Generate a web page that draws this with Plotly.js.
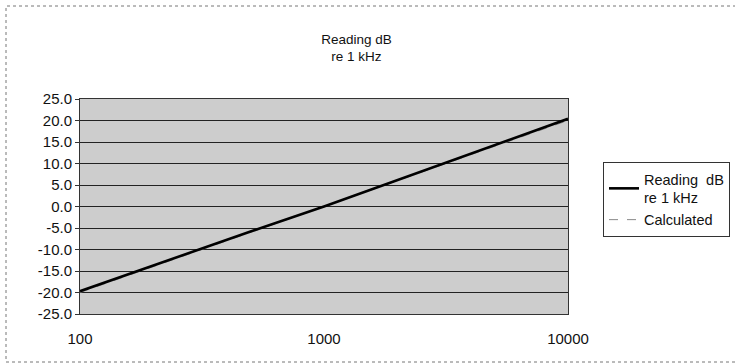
<!DOCTYPE html>
<html><head><meta charset="utf-8">
<script src="https://cdn.plot.ly/plotly-3.0.1.min.js"></script>
<style>body{margin:0;background:#fff}#c{width:735px;height:364px}</style>
</head><body><div id="c"></div>
<script>
const freq = [100, 200, 500, 1000, 2000, 5000, 10000];
const reading = [-19.7, -13.7, -5.8, 0.0, 6.1, 14.2, 20.4];
const calculated = [-20.0, -14.0, -6.0, 0.0, 6.0, 14.0, 20.0];
const yTickVals = [25, 20, 15, 10, 5, 0, -5, -10, -15, -20, -25];
const yTickText = ["25.0","20.0","15.0","10.0","5.0","0.0","-5.0","-10.0","-15.0","-20.0","-25.0"];
const xTickVals = [100, 1000, 10000];
const xTickText = ["100", "1000", "10000"];

const traces = [
  {x: freq, y: calculated, mode: 'lines', name: 'Calculated',
   line: {color: '#8a8a8a', width: 1, dash: 'dash'}},
  {x: freq, y: reading, mode: 'lines', name: 'Reading  dB<br>re 1 kHz',
   line: {color: '#000', width: 2.6}}
];
const layout = {
  width: 735, height: 364,
  margin: {l: 80, r: 167, t: 99, b: 50},
  paper_bgcolor: '#fff', plot_bgcolor: '#cdcdcd',
  font: {family: 'Liberation Sans, Arial, sans-serif', size: 13, color: '#111'},
  title: {text: 'Reading dB<br>re 1 kHz', x: 0.485, xanchor: 'center', y: 0.88, yanchor: 'middle',
          font: {size: 13.5, color: '#111'}},
  showlegend: true,
  legend: {xref: 'container', yref: 'container', x: 603/735, y: 1 - 162/364,
           xanchor: 'left', yanchor: 'top', traceorder: 'reversed',
           bgcolor: '#fff', bordercolor: '#333', borderwidth: 1,
           font: {size: 14.5, color: '#111'}, itemwidth: 30, tracegroupgap: 0},
  xaxis: {type: 'log', range: [2, 4], tickvals: xTickVals, ticktext: xTickText,
          showgrid: false, zeroline: false, showline: true, linecolor: '#333', linewidth: 1,
          ticks: '', ticklabelstandoff: 11, mirror: true, tickfont: {size: 15}, automargin: false},
  yaxis: {range: [-25, 25], tickvals: yTickVals, ticktext: yTickText,
          showgrid: true, gridcolor: '#222', gridwidth: 1, zeroline: false,
          showline: true, linecolor: '#333', linewidth: 1, mirror: true, automargin: false,
          ticks: 'outside', ticklen: 4, tickcolor: '#333', tickfont: {size: 15}},
  shapes: [{type: 'rect', xref: 'paper', yref: 'paper',
            x0: (6-80)/488, x1: (745-80)/488, y0: (314-362)/215, y1: (314-6)/215,
            line: {color: '#777', width: 1, dash: 'dot'}, fillcolor: 'rgba(0,0,0,0)', layer: 'below'}]
};
Plotly.newPlot('c', traces, layout, {staticPlot: true, displayModeBar: false});
</script></body></html>
